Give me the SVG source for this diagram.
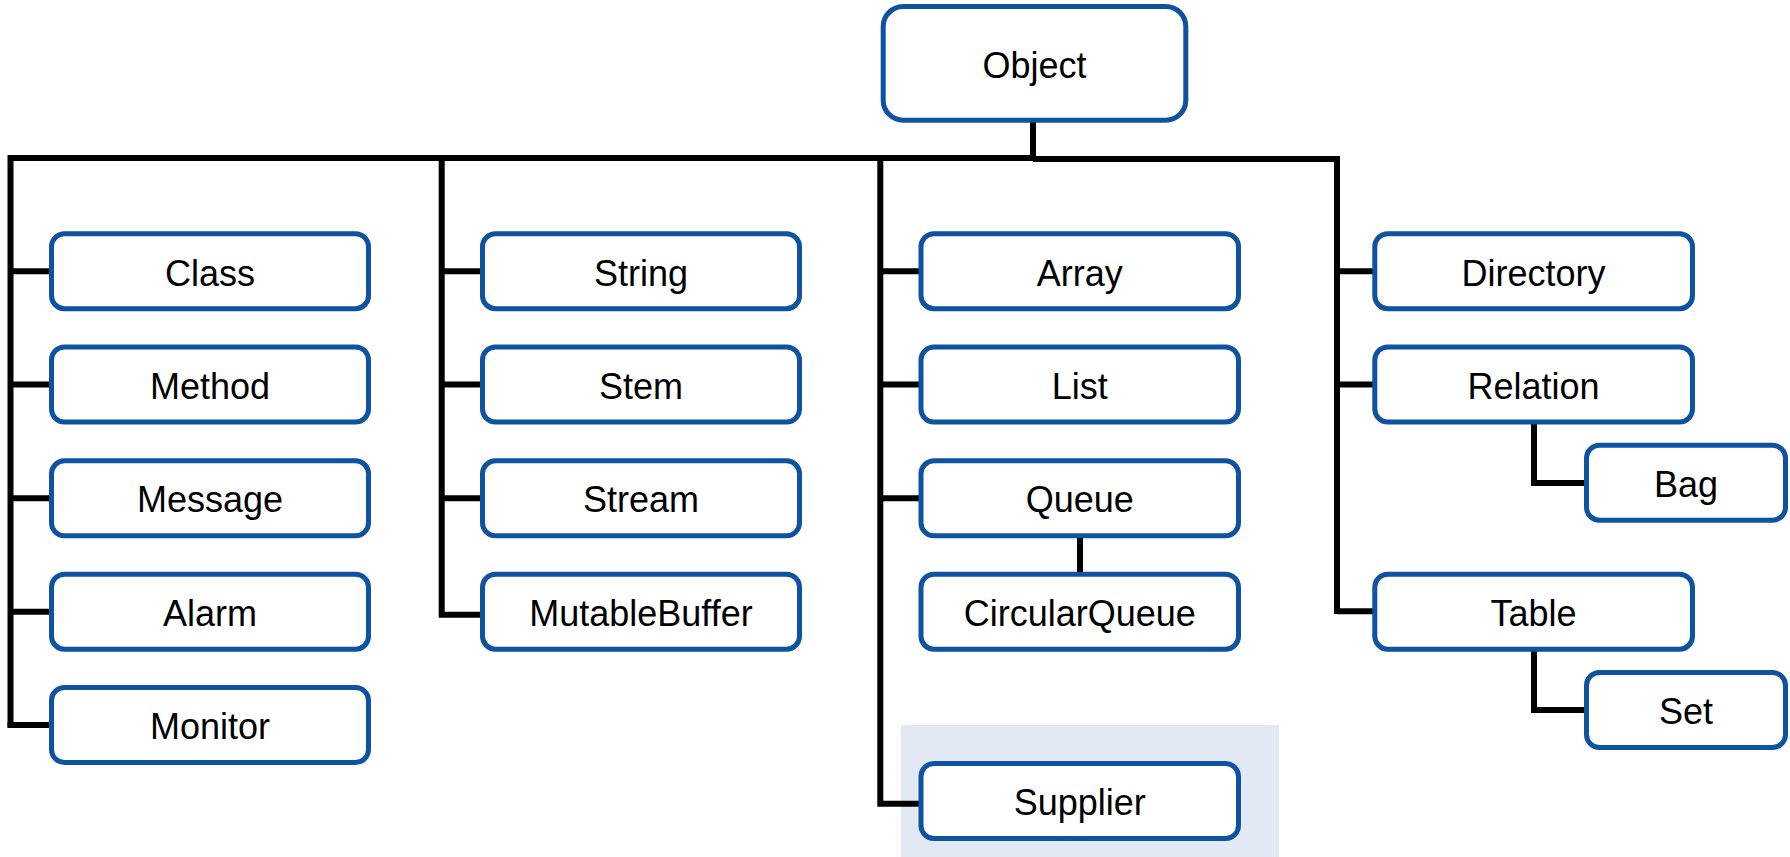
<svg xmlns="http://www.w3.org/2000/svg" width="1790" height="857" viewBox="0 0 1790 857">
<style>
.box{fill:#ffffff;stroke:#0e52a0;stroke-width:5}
.lbl{font-family:"Liberation Sans",Arial,sans-serif;font-size:36px;fill:#000000;text-anchor:middle}
.ln{fill:none;stroke:#000000;stroke-width:6;stroke-linejoin:miter;stroke-linecap:butt}
</style>
<rect id="highlight" x="901" y="725" width="378" height="132" fill="#e2e9f4"/>
<g id="connectors">
<path class="ln" d="M1033,120 V158"/>
<path class="ln" d="M10.5,727.5 V158 H1033"/>
<path class="ln" d="M1033,159 H1337 V614"/>
<path class="ln" d="M441.7,158 V614.7 H482.5"/>
<path class="ln" d="M880.3,158 V803.8 H921"/>
<path class="ln" d="M10.5,271.2 H51.5"/>
<path class="ln" d="M10.5,384.5 H51.5"/>
<path class="ln" d="M10.5,498.3 H51.5"/>
<path class="ln" d="M10.5,611.7 H51.5"/>
<path class="ln" d="M7.5,725 H51.5"/>
<path class="ln" d="M441.7,271.2 H482.5"/>
<path class="ln" d="M441.7,384.5 H482.5"/>
<path class="ln" d="M441.7,498.3 H482.5"/>
<path class="ln" d="M880.3,271.2 H921"/>
<path class="ln" d="M880.3,384.5 H921"/>
<path class="ln" d="M880.3,498.3 H921"/>
<path class="ln" d="M1080,536 V574"/>
<path class="ln" d="M1337,271.2 H1374.8"/>
<path class="ln" d="M1337,384.5 H1374.8"/>
<path class="ln" d="M1337,611.2 H1374.8"/>
<path class="ln" d="M1534,422 V483 H1586.5"/>
<path class="ln" d="M1534,649.5 V710 H1586.5"/>
</g>
<g id="node-object"><rect class="box" x="883.2" y="6.5" width="302.6" height="113.7" rx="20"/><text class="lbl" x="1034.5" y="77.5">Object</text></g>
<g id="node-class"><rect class="box" x="51.5" y="233.7" width="317" height="75" rx="13"/><text class="lbl" x="210" y="285.5">Class</text></g>
<g id="node-method"><rect class="box" x="51.5" y="347" width="317" height="75" rx="13"/><text class="lbl" x="210" y="398.5">Method</text></g>
<g id="node-message"><rect class="box" x="51.5" y="460.8" width="317" height="75" rx="13"/><text class="lbl" x="210" y="512.3">Message</text></g>
<g id="node-alarm"><rect class="box" x="51.5" y="574.2" width="317" height="75" rx="13"/><text class="lbl" x="210" y="625.7">Alarm</text></g>
<g id="node-monitor"><rect class="box" x="51.5" y="687.5" width="317" height="75" rx="13"/><text class="lbl" x="210" y="739">Monitor</text></g>
<g id="node-string"><rect class="box" x="482.5" y="233.7" width="317" height="75" rx="13"/><text class="lbl" x="641" y="285.5">String</text></g>
<g id="node-stem"><rect class="box" x="482.5" y="347" width="317" height="75" rx="13"/><text class="lbl" x="641" y="398.5">Stem</text></g>
<g id="node-stream"><rect class="box" x="482.5" y="460.8" width="317" height="75" rx="13"/><text class="lbl" x="641" y="512.3">Stream</text></g>
<g id="node-mutablebuffer"><rect class="box" x="482.5" y="574.2" width="317" height="75" rx="13"/><text class="lbl" x="641" y="625.7">MutableBuffer</text></g>
<g id="node-array"><rect class="box" x="921" y="233.7" width="317.5" height="75" rx="13"/><text class="lbl" x="1079.8" y="285.5">Array</text></g>
<g id="node-list"><rect class="box" x="921" y="347" width="317.5" height="75" rx="13"/><text class="lbl" x="1079.8" y="398.5">List</text></g>
<g id="node-queue"><rect class="box" x="921" y="460.8" width="317.5" height="75" rx="13"/><text class="lbl" x="1079.8" y="512.3">Queue</text></g>
<g id="node-circularqueue"><rect class="box" x="921" y="574.2" width="317.5" height="75" rx="13"/><text class="lbl" x="1079.8" y="625.7">CircularQueue</text></g>
<g id="node-supplier"><rect class="box" x="921" y="763.5" width="317.5" height="75" rx="13"/><text class="lbl" x="1079.8" y="815">Supplier</text></g>
<g id="node-directory"><rect class="box" x="1374.8" y="233.7" width="317.7" height="75" rx="13"/><text class="lbl" x="1533.6" y="285.5">Directory</text></g>
<g id="node-relation"><rect class="box" x="1374.8" y="347" width="317.7" height="75" rx="13"/><text class="lbl" x="1533.6" y="398.5">Relation</text></g>
<g id="node-bag"><rect class="box" x="1586.5" y="445.2" width="199" height="75" rx="13"/><text class="lbl" x="1686" y="497">Bag</text></g>
<g id="node-table"><rect class="box" x="1374.8" y="574.2" width="317.7" height="75" rx="13"/><text class="lbl" x="1533.6" y="625.7">Table</text></g>
<g id="node-set"><rect class="box" x="1586.5" y="672.5" width="199" height="75" rx="13"/><text class="lbl" x="1686" y="724">Set</text></g>
</svg>
